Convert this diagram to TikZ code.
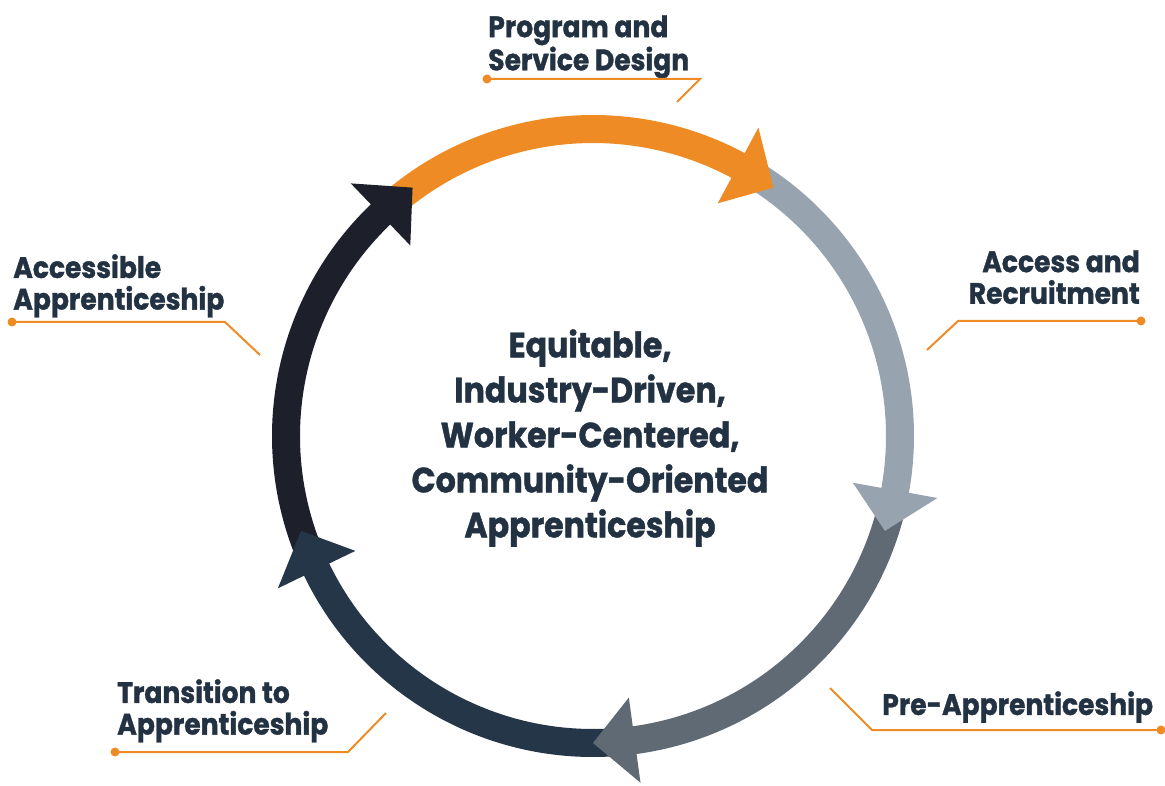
\documentclass[tikz,border=0pt]{standalone}
\usepackage{fontspec}
\setmainfont{Poppins}[FakeStretch=0.9, BoldFeatures={FakeBold=1.2}]
\usetikzlibrary{calc}

\definecolor{orangeC}{RGB}{238,139,36}
\definecolor{lightC}{RGB}{151,164,175}
\definecolor{slateC}{RGB}{95,106,117}
\definecolor{navyC}{RGB}{37,54,72}
\definecolor{inkC}{RGB}{29,31,43}
\definecolor{textC}{RGB}{35,50,66}

\begin{document}
\begin{tikzpicture}[
  x=0.025cm, y=0.025cm,
  lbl/.style={inner sep=0pt, text=textC, font=\bfseries\fontsize{21}{22.5}\selectfont},
  leader/.style={draw=orangeC, line width=0.05cm},
  shaft/.style={line width=0.7cm}
]
\useasboundingbox (0,0) rectangle (1165,785);

% ===== 円環 =====
\coordinate (C) at (593,349);
\def\R{307}

% 矢の胴
\foreach \s/\e/\c in {131/61.5/orangeC, 59/-10.5/lightC, -13/-82.5/slateC,
                      -85/-154.5/navyC, 203/133.5/inkC} {
  \draw[shaft, \c] (C) ++(\s:\R) arc[start angle=\s, end angle=\e, radius=\R];
}

% 矢じり
\foreach \t/\c in {54/orangeC, -18/lightC, -90/slateC, -162/navyC, 126/inkC} {
  \fill[\c] ([shift={(\t:\R)}]C) -- ([shift={(\t+7.8:264)}]C)
    -- ([shift={(\t+7.8:350)}]C) -- cycle;
}

% ===== 中央テキスト =====
\node[inner sep=0pt, text=textC, align=center,
  font=\bfseries\fontsize{25}{32}\selectfont] (core) at (590,347)
  {Equitable,\\Industry-Driven,\\Worker-Centered,\\Community-Oriented\\Apprenticeship};

% ===== ラベル =====
\node[lbl, anchor=north west, align=left] (design) at (488,770) {Program and\\Service Design};
\node[lbl, anchor=north west, align=left] (access) at (13,531) {Accessible\\Apprenticeship};
\node[lbl, anchor=north east, align=right] (recruit) at (1140,535) {Access and\\Recruitment};
\node[lbl, anchor=north west, align=left] (pre) at (882,94) {Pre-Apprenticeship};
\node[lbl, anchor=north west, align=left] (trans) at (117,106) {Transition to\\Apprenticeship};

% ===== 引き出し線 =====
\coordinate (design-dot) at (487,706);
\coordinate (design-bend) at (700,706);
\coordinate (design-end) at (677,683);
\coordinate (access-dot) at (12,463);
\coordinate (access-bend) at (225,463);
\coordinate (access-end) at (260,430);
\coordinate (recruit-dot) at (1141,464);
\coordinate (recruit-bend) at (958,464);
\coordinate (recruit-end) at (927,435);
\coordinate (pre-dot) at (1161,55);
\coordinate (pre-bend) at (872,55);
\coordinate (pre-end) at (830,97);
\coordinate (trans-dot) at (115,33);
\coordinate (trans-bend) at (348,33);
\coordinate (trans-end) at (386,72);

\foreach \n in {design, access, recruit, pre, trans} {
  \draw[leader] (\n-dot) -- (\n-bend) -- (\n-end);
  \fill[orangeC] (\n-dot) circle[radius=4.5];
}

\end{tikzpicture}
\end{document}
